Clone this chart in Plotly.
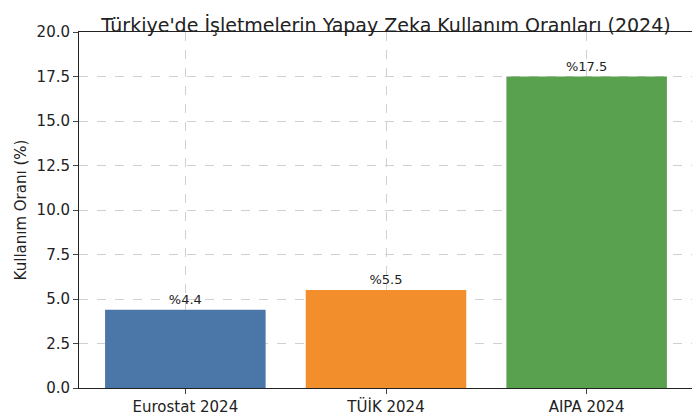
import plotly.graph_objects as go

categories = ["Eurostat 2024", "TÜİK 2024", "AIPA 2024"]
values = [4.4, 5.5, 17.5]
labels = ["%4.4", "%5.5", "%17.5"]
colors = ["#4a76a8", "#f28e2b", "#59a14f"]

fig = go.Figure(go.Bar(
    x=[0, 1, 2], y=values, width=0.8, marker=dict(color=colors, line_width=0),
    text=labels, textposition="outside", textfont=dict(size=13, color="#222"),
    cliponaxis=False))

fig.update_layout(
    width=700, height=420, plot_bgcolor="white", paper_bgcolor="white",
    font=dict(family="DejaVu Sans", color="#222"),
    title=dict(text="Türkiye'de İşletmelerin Yapay Zeka Kullanım Oranları (2024)",
               x=0.54, xanchor="center", y=0.975, font=dict(size=19)),
    margin=dict(l=66, r=15, t=24, b=14),
    showlegend=False,
)
fig.update_xaxes(tickvals=[0, 1, 2], ticktext=categories, range=[-0.53, 2.53],
                 showline=True, linecolor="#222", mirror=True, ticks="outside",
                 showgrid=True, gridcolor="#d0d0d0", griddash="dash",
                 tickfont=dict(size=15))
fig.update_yaxes(range=[0, 20], dtick=2.5, tickformat=".1f",
                 showline=True, linecolor="#222", mirror=True, ticks="outside",
                 showgrid=True, gridcolor="#d0d0d0", griddash="dash",
                 tickfont=dict(size=15), zeroline=False,
                 title=dict(text="Kullanım Oranı (%)", font=dict(size=15), standoff=6))
fig.write_html("out.html")
